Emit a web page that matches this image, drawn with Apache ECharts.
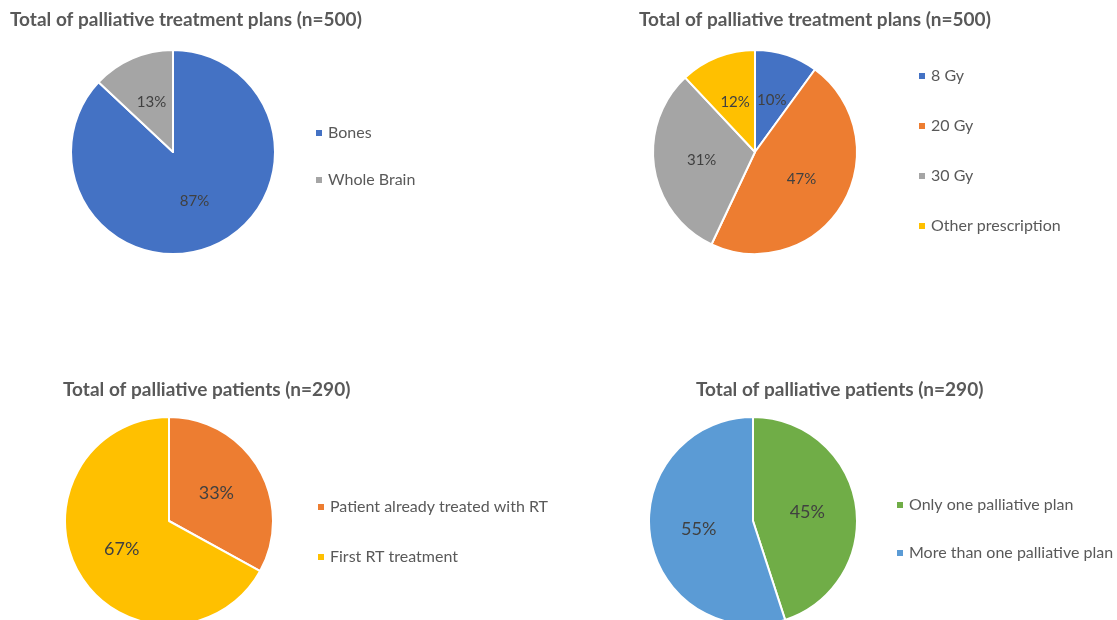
<!DOCTYPE html>
<html>
<head>
<meta charset="utf-8">
<script src="https://cdn.jsdelivr.net/npm/echarts@6/dist/echarts.min.js"></script>
<style>html,body{margin:0;padding:0;background:#fff}#c{width:1117px;height:620px}</style>
</head>
<body>
<div id="c"></div>
<script>
// Data
const title1 = 'Total of palliative treatment plans (n=500)';
const cats1 = ['Bones', 'Whole Brain'];
const vals1 = [87, 13];

const title2 = 'Total of palliative treatment plans (n=500)';
const cats2 = ['8 Gy', '20 Gy', '30 Gy', 'Other prescription'];
const vals2 = [10, 47, 31, 12];

const title3 = 'Total of palliative patients (n=290)';
const cats3 = ['Patient already treated with RT', 'First RT treatment'];
const vals3 = [33, 67];

const title4 = 'Total of palliative patients (n=290)';
const cats4 = ['Only one palliative plan', 'More than one palliative plan'];
const vals4 = [45, 55];

const colors1 = ['#4472C4', '#A5A5A5'];
const colors2 = ['#4472C4', '#ED7D31', '#A5A5A5', '#FFC000'];
const colors3 = ['#ED7D31', '#FFC000'];
const colors4 = ['#70AD47', '#5B9BD5'];

const FONT = 'Lato';
function mk(cats, vals, cols) {
  return cats.map((c, i) => ({ name: c, value: vals[i], itemStyle: { color: cols[i] } }));
}
function pie(id, cats, vals, cols, center, r, fs) {
  return {
    type: 'pie', id: id, name: id, center: center, radius: r,
    startAngle: 90, clockwise: true, animation: false, silent: true,
    itemStyle: { borderColor: '#fff', borderWidth: 2 },
    label: { show: true, position: 'inside', formatter: '{d}%', color: '#404040', fontSize: fs, fontFamily: FONT },
    labelLine: { show: false },
    emphasis: { disabled: true },
    data: mk(cats, vals, cols)
  };
}
function legend(cats, left, top, gap, fs) {
  return {
    data: cats, orient: 'vertical', left: left, top: top, itemGap: gap, padding: 0,
    icon: 'rect', itemWidth: 8, itemHeight: 8, selectedMode: false,
    textStyle: { color: '#595959', fontSize: fs, fontFamily: FONT }
  };
}
const tStyle = { color: '#595959', fontSize: 19, fontWeight: 'bold', fontFamily: FONT };
const option = {
  backgroundColor: '#fff',
  animation: false,
  title: [
    { text: title1, left: 10, top: 10, padding: 0, textStyle: tStyle },
    { text: title2, left: 639, top: 10, padding: 0, textStyle: tStyle },
    { text: title3, left: 63, top: 380, padding: 0, textStyle: tStyle },
    { text: title4, left: 696, top: 380, padding: 0, textStyle: tStyle }
  ],
  legend: [
    legend(cats1, 314, 125, 31, 16),
    legend(cats2, 917, 68, 34, 16),
    legend(cats3, 316, 499, 34, 16),
    legend(cats4, 895, 497, 32, 16)
  ],
  series: [
    pie('p1', cats1, vals1, colors1, [173, 152], 102, 15),
    pie('p2', cats2, vals2, colors2, [755, 152], 102, 15),
    pie('p3', cats3, vals3, colors3, [169, 521], 104, 18),
    pie('p4', cats4, vals4, colors4, [753, 521], 104, 18)
  ]
};
const chart = echarts.init(document.getElementById('c'), null, { renderer: 'canvas' });
chart.setOption(option);
</script>
</body>
</html>
